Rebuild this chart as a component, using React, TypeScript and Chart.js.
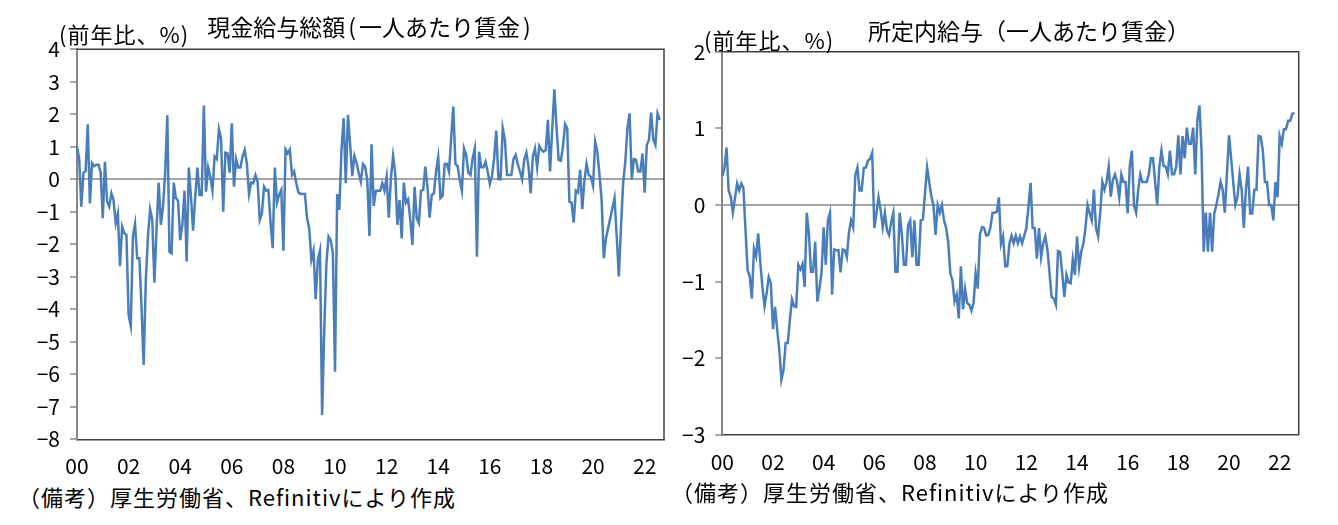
import { useEffect, useRef } from "react"
import { Chart, registerables } from "chart.js"

Chart.register(...registerables)

const FONT = '"Noto Sans CJK JP", "Noto Sans", sans-serif'
Chart.defaults.font.family = FONT

// monthly, starting Jan 2000
const startYear = 2000
const monthCount = 274
const yearTicks = ["00", "02", "04", "06", "08", "10", "12", "14", "16", "18", "20", "22"]

// 現金給与総額 (前年比、%)
const totalWage = [
  1.0, 0.65, -0.84, 0.2, 0.25, 1.69, -0.74, 0.5, 0.4, 0.45,
  0.45, 0.2, -1.2, 0.54, -0.69, -0.84, -0.43, -0.64, -1.35, -1.05,
  -2.67, -1.46, -1.66, -1.71, -4.17, -4.51, -1.76, -1.37, -2.43, -2.43,
  -3.92, -5.71, -3.1, -1.76, -0.92, -1.25, -3.18, -1.5, -0.1, -1.4,
  -0.84, 0.18, 1.97, -2.23, -2.28, -0.1, -0.58, -0.66, -1.87, -1.4,
  -0.35, -2.53, 0.36, -0.53, -1.58, -0.53, 0.36, -0.48, -0.48, 2.27,
  -0.38, 0.36, 0.08, -0.35, 0.7, 0.62, 1.54, 1.26, -1.0, 0.82,
  0.8, 0.2, 1.72, -0.23, 0.62, 0.36, 0.36, 0.7, 0.9, 0.49,
  -0.45, -0.1, -0.12, 0.13, -0.07, -1.25, -1.05, -0.23, -0.35, -0.33,
  -1.3, -2.12, 0.36, -0.72, -0.48, -0.33, -2.2, 0.92, 0.8, 0.92,
  0.13, 0.24, -0.12, -0.41, -0.45, -0.45, -0.45, -1.2, -1.51, -2.48,
  -2.2, -3.69, -2.48, -2.19, -7.25, -4.6, -2.58, -1.76, -1.87, -2.28,
  -5.92, -0.45, -0.94, 0.9, 1.88, -0.12, 1.98, 1.1, 0.1, 0.72,
  0.51, 0.2, -0.07, 0.47, 0.39, -0.02, -1.74, 1.08, -0.82, -0.35,
  -0.35, -0.35, -0.12, -0.35, 0.08, -1.18, 0.03, 0.72, 0.18, -1.4,
  -0.64, -1.82, -0.1, -0.72, -0.62, -1.25, -2.02, -0.23, -1.2, -1.35,
  -0.35, -0.33, 0.39, -0.23, -1.18, -0.48, -0.43, 0.24, 0.68, -0.58,
  -0.51, 0.47, 0.47, 0.24, 1.26, 2.24, 0.47, 0.41, -0.02, -0.35,
  0.95, 0.75, 0.2, 0.13, 0.65, 0.95, -2.38, 0.85, 0.37, 0.37,
  0.54, 0.24, -0.14, 0.1, 0.65, 1.5, 0.0, 0.0, 1.57, 1.21,
  0.13, 0.13, 0.13, 0.62, 0.75, 0.47, 0.24, 0.0, 0.6, 0.82,
  0.39, -0.43, 0.7, 0.95, 0.37, 1.03, 0.9, 0.85, 0.9, 1.83,
  0.24, 1.52, 2.77, 1.62, 0.6, 0.57, 1.0, 1.7, 1.57, -0.69,
  -0.72, -1.33, -0.35, -0.41, 0.29, -0.92, -0.02, 0.47, 0.13, 0.08,
  -0.2, 1.16, 0.85, 0.13, -0.64, -2.43, -1.82, -1.51, -1.2, -0.89,
  -0.58, -1.76, -2.99, -1.46, -0.12, 0.54, 1.57, 2.03, 0.0, 0.62,
  0.6, 0.24, 0.24, 0.8, -0.41, 1.06, 1.21, 2.05, 1.23, 1.06,
  2.03, 1.83,
]

// 所定内給与 (前年比、%)
const scheduledWage = [
  0.38, 0.48, 0.75, 0.19, 0.11, -0.1, 0.09, 0.28, 0.19, 0.28,
  0.22, -0.33, -0.85, -0.93, -1.22, -0.57, -0.67, -0.37, -0.75, -1.07,
  -1.32, -1.15, -0.94, -1.02, -1.62, -1.33, -1.63, -1.89, -2.28, -2.15,
  -1.8, -1.8, -1.5, -1.23, -1.32, -1.33, -0.78, -0.84, -0.77, -1.07,
  -0.1, -0.37, -0.87, -0.87, -0.48, -1.26, -1.09, -0.88, -0.29, -0.78,
  -0.2, -0.1, -1.17, -0.58, -0.59, -0.59, -0.88, -0.58, -0.59, -0.68,
  -0.35, -0.2, -0.29, 0.39, 0.49, 0.19, 0.19, 0.48, 0.49, 0.58,
  0.6, 0.68, -0.3, -0.11, 0.1, -0.07, -0.29, -0.1, -0.33, -0.39,
  -0.22, -0.1, -0.87, -0.87, -0.1, -0.37, -0.78, -0.78, -0.26, -0.2,
  -0.68, -0.2, -0.78, -0.78, -0.2, -0.19, 0.15, 0.49, 0.3, 0.11,
  0, -0.39, 0, -0.1, 0, -0.2, -0.3, -0.48, -0.89, -0.98,
  -1.26, -1.17, -1.48, -0.8, -1.36, -1.09, -1.28, -1.3, -1.38, -1.28,
  -0.89, -1.09, -0.39, -0.29, -0.3, -0.4, -0.39, -0.29, -0.1, -0.1,
  -0.09, 0.1, -0.51, -0.41, -0.8, -0.8, -0.5, -0.4, -0.5, -0.4,
  -0.5, -0.41, -0.5, -0.4, -0.3, -0.02, 0.29, -0.3, -0.3, -0.7,
  -0.3, -0.68, -0.5, -0.41, -0.58, -0.89, -1.2, -1.22, -1.3, -0.6,
  -0.61, -0.89, -1.2, -0.91, -1.01, -1.02, -0.71, -0.91, -0.41, -0.81,
  -0.61, -0.51, -0.3, 0, -0.11, -0.2, 0.2, -0.3, -0.41, -0.1,
  0.3, 0.2, 0.3, 0.5, 0.11, 0.33, 0.4, 0.3, 0.1, 0.4,
  0.3, 0.3, -0.11, 0.51, 0.71, -0.01, -0.1, 0.2, 0.4, 0.3,
  0.3, 0.3, 0.4, 0.61, 0.61, 0.3, 0, 0.5, 0.71, 0.51,
  0.5, 0.4, 0.71, 0.4, 0.4, 0.5, 0.91, 0.4, 0.9, 0.61,
  1.01, 0.8, 0.8, 1.01, 0.4, 1.11, 1.3, 0.7, -0.61, -0.1,
  -0.61, -0.1, -0.61, -0.11, 0, 0.14, 0.3, 0.2, -0.1, 0.4,
  0.91, 0.61, 0.3, 0, 0.1, 0.4, 0.2, -0.3, 0.2, 0.5,
  -0.11, -0.11, 0.2, 0.2, 0.9, 0.89, 0.71, 0.3, 0.3, 0,
  0, -0.2, 0.3, 0.1, 0.9, 0.8, 0.99, 0.99, 1.1, 1.1,
  1.19, 1.2,
]

const months = Array.from(
  { length: monthCount },
  (_, i) => `${startYear + Math.floor(i / 12)}/${(i % 12) + 1}`
)

const CANVAS_H = 480

// plot boxes, in each canvas's own pixels
const leftPlot = { left: 77, top: 49.3, right: 664, bottom: 439.3 }
const rightPlot = { left: 42.3, top: 51.7, right: 618.7, bottom: 435 }

// top and right edges of the plot frame
const frame = {
  id: "frame",
  afterDatasetsDraw(chart: Chart) {
    const { ctx, chartArea: a } = chart
    ctx.save()
    ctx.strokeStyle = "#404040"
    ctx.lineWidth = 1.5
    ctx.beginPath()
    ctx.moveTo(a.left, a.top)
    ctx.lineTo(a.right, a.top)
    ctx.lineTo(a.right, a.bottom)
    ctx.stroke()
    ctx.restore()
  },
}

interface WageChartProps {
  values: number[]
  min: number
  max: number
  x: number
  width: number
  plot: { left: number; top: number; right: number; bottom: number }
}

function WageChart({ values, min, max, x, width, plot }: WageChartProps) {
  const chartRef = useRef<HTMLCanvasElement>(null)

  useEffect(() => {
    if (!chartRef.current) return

    const chart = new Chart(chartRef.current, {
      type: "line",
      data: {
        labels: months,
        datasets: [
          {
            data: values,
            borderColor: "#4a7ebb",
            borderWidth: 2.5,
            pointRadius: 0,
            tension: 0,
            fill: false,
          },
        ],
      },
      options: {
        animation: false,
        responsive: true,
        maintainAspectRatio: false,
        layout: { padding: { top: plot.top, right: width - plot.right, bottom: 0, left: 0 } },
        plugins: { legend: { display: false }, tooltip: { enabled: false } },
        scales: {
          x: {
            grid: { display: false },
            border: { display: true, color: "#404040", width: 1.5 },
            ticks: {
              autoSkip: false,
              maxRotation: 0,
              minRotation: 0,
              padding: 6,
              color: "#000",
              font: { size: 21 },
              callback: (_v: any, i: number) => (i % 24 === 0 ? yearTicks[i / 24] ?? "" : ""),
            },
            afterFit: (s: any) => {
              s.height = CANVAS_H - plot.bottom
            },
          },
          y: {
            min,
            max,
            ticks: {
              stepSize: 1,
              padding: 10,
              color: "#000",
              font: { size: 21 },
              callback: (v: any) => (Number(v) < 0 ? `−${-Number(v)}` : `${v}`),
            },
            grid: {
              color: (c: any) => (c.tick && c.tick.value === 0 ? "#a6a6a6" : "rgba(0,0,0,0)"),
              lineWidth: 2,
              tickColor: "#868686",
              tickLength: 7,
              tickWidth: 1.5,
            },
            border: { display: true, color: "#868686", width: 2 },
            afterFit: (s: any) => {
              s.width = plot.left
            },
          },
        },
      },
      plugins: [frame],
    })

    return () => {
      chart.destroy()
    }
  }, [values, min, max, width, plot])

  return (
    <div style={{ position: "absolute", left: x, top: 0, width, height: CANVAS_H }}>
      <canvas ref={chartRef} />
    </div>
  )
}

const text = (left: number, top: number, size: number, extra: any = {}) => ({
  position: "absolute" as const,
  left,
  top,
  fontSize: size,
  lineHeight: "1",
  whiteSpace: "nowrap" as const,
  ...extra,
})

export default function App() {
  return (
    <div
      style={{
        position: "absolute",
        left: 0,
        top: 0,
        width: 1338,
        height: 525,
        overflow: "hidden",
        background: "#fff",
        color: "#000",
        fontFamily: FONT,
      }}
    >
      <WageChart values={totalWage} min={-8} max={4} x={0} width={680} plot={leftPlot} />
      <WageChart values={scheduledWage} min={-3} max={2} x={680} width={658} plot={rightPlot} />

      <div style={text(77, 15, 23, { width: 587, textAlign: "center" })}>
        現金給与総額<span style={{ margin: "0 3px" }}>(</span>一人あたり賃金<span style={{ margin: "0 3px" }}>)</span>
      </div>
      <div style={text(868, 19, 23)}>所定内給与（一人あたり賃金）</div>

      <div style={text(59, 22, 22, { letterSpacing: 1 })}>(前年比、%)</div>
      <div style={text(704, 28, 22, { letterSpacing: 1 })}>(前年比、%)</div>

      <div style={text(18, 485, 22, { letterSpacing: 1 })}>（備考）厚生労働省、Refinitivにより作成</div>
      <div style={text(671, 480, 22, { letterSpacing: 1 })}>（備考）厚生労働省、Refinitivにより作成</div>
    </div>
  )
}
